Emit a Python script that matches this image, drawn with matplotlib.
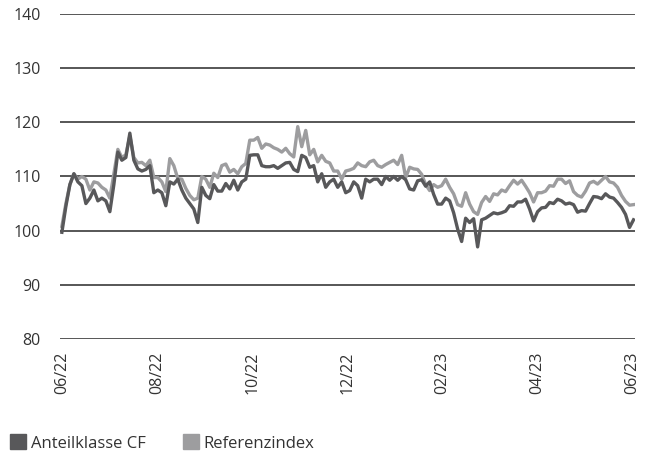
import numpy as np
import matplotlib
matplotlib.use("Agg")
import matplotlib.pyplot as plt
from matplotlib.patches import Patch

plt.rcParams['font.family'] = ['Open Sans', 'DejaVu Sans']

tickLabels = ['06/22', '08/22', '10/22', '12/22', '02/23', '04/23', '06/23']
yTicks = [80, 90, 100, 110, 120, 130, 140]

# Anteilklasse CF (indexed, roughly every 2-3 trading days)
anteilklasse = [
    99.7, 104.5, 108.5, 110.5, 109, 108.3, 105, 106, 107.5, 105.5,
    106, 105.5, 103.5, 108.5, 114.5, 113, 113.5, 118, 113, 111.4,
    111, 111.3, 112, 107, 107.5, 107, 104.6, 109, 108.6, 109.5,
    107.5, 106, 105, 104, 101.5, 108, 106.5, 105.9, 108.5, 107.3,
    107.3, 108.7, 107.7, 109.3, 107.5, 109, 109.5, 113.9, 114, 114,
    112, 111.8, 111.8, 112, 111.5, 112, 112.5, 112.6, 111.3, 110.9,
    113.9, 113.5, 111.7, 112, 109, 110.5, 108, 109, 109.5, 108,
    109, 107, 107.4, 109, 108.3, 106, 109.5, 109, 109.5, 109.5,
    108.5, 110, 109.3, 110, 109.3, 110, 109.4, 107.7, 107.5, 109.2,
    109.4, 108.2, 109, 106.7, 104.9, 104.9, 106, 105.5, 103.3, 100.3,
    98, 102.3, 101.5, 102.2, 97, 102, 102.3, 102.8, 103.3, 103.1,
    103.3, 103.6, 104.6, 104.5, 105.3, 105.3, 105.8, 104, 101.8, 103.5,
    104.2, 104.3, 105.2, 105, 105.8, 105.5, 104.9, 105.1, 104.8, 103.4,
    103.7, 103.6, 105, 106.3, 106.2, 105.9, 106.8, 106.2, 106, 105.2,
    104.3, 103, 100.6, 102,
]

referenzindex = [
    100.8, 105, 108.5, 110.5, 109.5, 110, 109.5, 107.5, 109, 108.8,
    108, 107.5, 106, 110.5, 115, 113.5, 114, 117.5, 113.5, 112.5,
    112.6, 112, 113, 109.8, 109.8, 109, 107.2, 113.3, 112, 109.6,
    109.5, 107.8, 106.5, 105.7, 106, 110, 109.5, 108, 110.6, 109.8,
    112, 112.3, 110.8, 111.3, 110.5, 111.8, 112.4, 116.7, 116.7, 117.2,
    115.2, 116, 115.8, 115.3, 115, 114.5, 115.2, 114.2, 113.6, 119.2,
    115.5, 118.5, 114, 115, 112.7, 113.9, 112.8, 112.5, 111, 111,
    109.5, 111, 111.2, 111.5, 112.5, 112, 111.8, 112.7, 113, 112,
    111.7, 112.2, 112.6, 113, 112.2, 113.9, 109.8, 111.7, 111.4, 111.3,
    110.4, 108.5, 107.4, 108.5, 108, 108.3, 109.5, 108, 106.8, 104.8,
    104.5, 107, 104.9, 103.5, 103, 105.2, 106.3, 105.4, 106.8, 106.6,
    107.5, 107.2, 108.3, 109.3, 108.6, 109.3, 108.2, 107, 105.3, 107,
    107, 107.3, 108.3, 108.2, 109.5, 109.5, 108.7, 109.2, 107.2, 106.5,
    106.2, 107.3, 108.8, 109.1, 108.6, 109.3, 110, 109, 108.8, 108,
    106.5, 105.4, 104.7, 104.8,
]

darkColor = '#58585a'
lightColor = '#9d9d9f'
textColor = '#333333'

fig = plt.figure(figsize=(6.51, 4.54), dpi=100)
ax = fig.add_axes([0.092, 0.2533, 0.883, 0.716])

x = np.arange(len(anteilklasse))
ax.plot(x, referenzindex, color=lightColor, lw=2.4, zorder=3)
ax.plot(x, anteilklasse, color=darkColor, lw=2.4, zorder=4)

ax.set_ylim(80, 140)
ax.set_yticks(yTicks)
ax.set_xlim(-0.5, len(x) - 1 + 0.3)
ax.set_xticks(np.linspace(0, len(x) - 1.2, len(tickLabels)))
ax.set_xticklabels(tickLabels, rotation=90)

for y in yTicks:
    ax.axhline(y, color='#3a3a3a', lw=1.2, zorder=1)

for s in ax.spines.values():
    s.set_visible(False)
ax.tick_params(axis='both', length=0, labelsize=11.5, colors=textColor)
ax.tick_params(axis='y', pad=14)
ax.tick_params(axis='x', pad=9)

handles = [Patch(color=darkColor, label='Anteilklasse CF'),
           Patch(color=lightColor, label='Referenzindex')]
fig.legend(handles=handles, loc='lower left', bbox_to_anchor=(0.012, 0.0),
           ncol=2, frameon=False, handlelength=0.95, handleheight=1.0,
           handletextpad=0.3, columnspacing=2.2, fontsize=12,
           borderpad=0.15, borderaxespad=0, labelcolor=textColor)

plt.savefig('out.png', dpi=100)
